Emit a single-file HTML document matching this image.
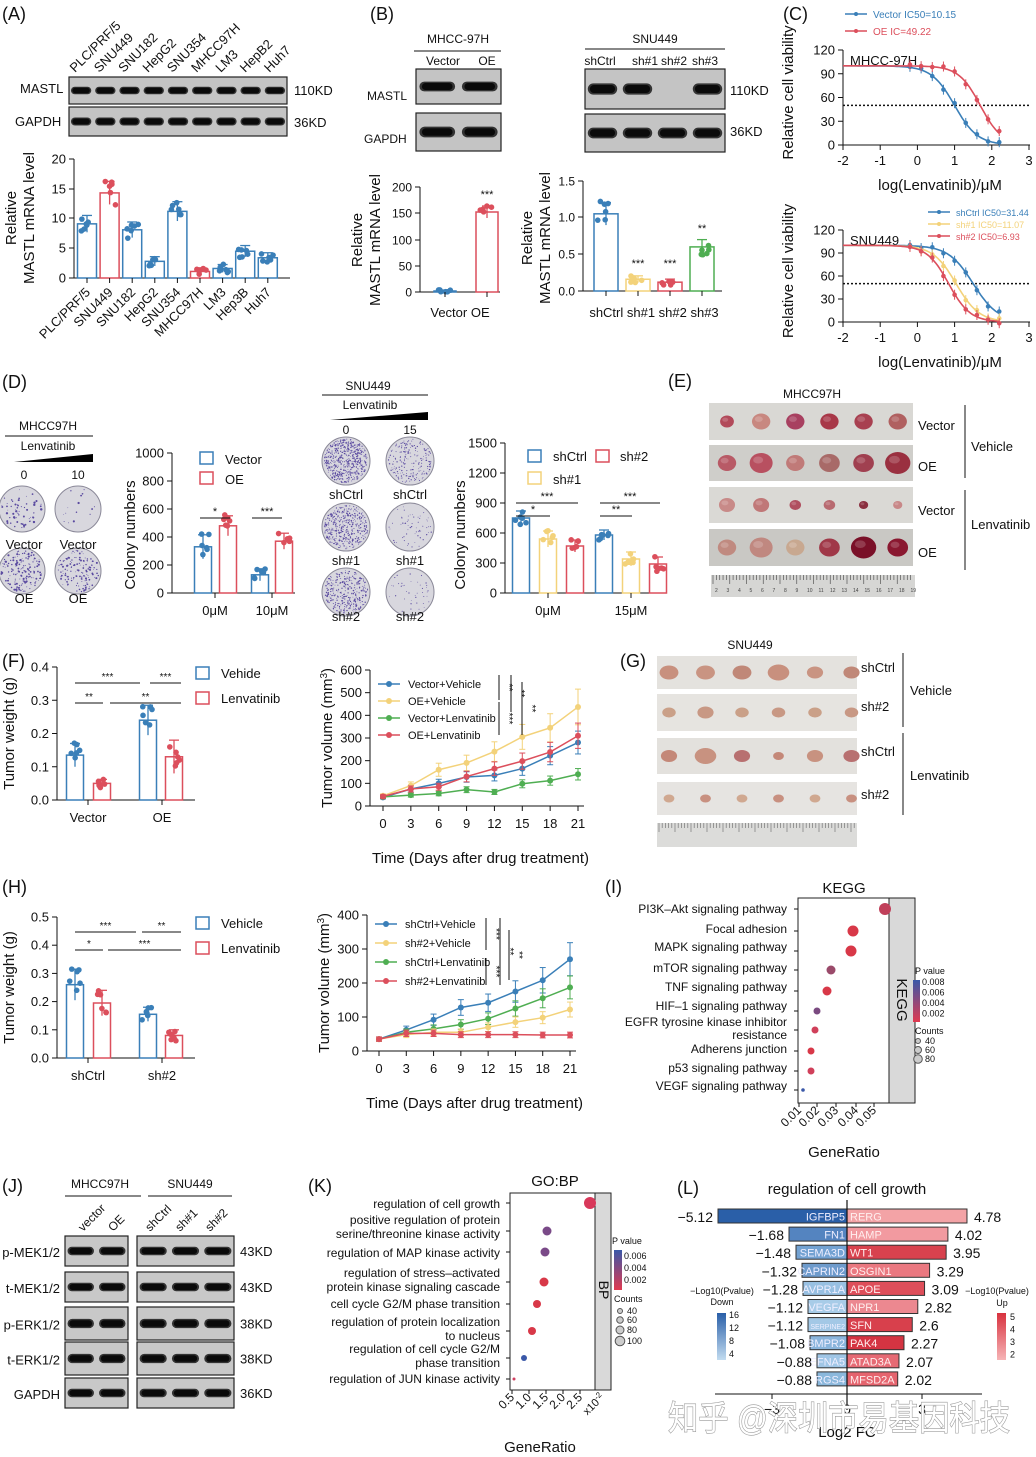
<!DOCTYPE html>
<html><head><meta charset="utf-8"><style>
html,body{margin:0;padding:0;background:#fff}
svg{display:block;font-family:"Liberation Sans","Noto Sans CJK SC",sans-serif}
</style></head><body>
<svg id="s" width="1036" height="1457" viewBox="0 0 1036 1457" xmlns="http://www.w3.org/2000/svg">
<defs>
<linearGradient id="pv" x1="0" y1="0" x2="0" y2="1"><stop offset="0" stop-color="#3a58a8"/><stop offset="1" stop-color="#e03a50"/></linearGradient>
<linearGradient id="dn" x1="0" y1="0" x2="0" y2="1"><stop offset="0" stop-color="#2a5fa8"/><stop offset="1" stop-color="#c2dcf0"/></linearGradient>
<linearGradient id="up" x1="0" y1="0" x2="0" y2="1"><stop offset="0" stop-color="#d8323f"/><stop offset="1" stop-color="#f6b4b6"/></linearGradient>
</defs>
</svg>
<script>
var s='';
function T(x,y,str,o){o=o||{};s+='<text x="'+x+'" y="'+y+'" font-size="'+(o.fs||13)+'" text-anchor="'+(o.a||'start')+'" fill="'+(o.c||'#111')+'"'+(o.r!=null?' transform="rotate('+o.r+' '+x+' '+y+')"':'')+(o.st?' stroke="'+o.st+'" stroke-width="'+(o.sw||1)+'" paint-order="stroke"':'')+(o.tl?' textLength="'+o.tl+'" lengthAdjust="spacingAndGlyphs"':'')+'>'+str+'</text>';}
function L(x1,y1,x2,y2,c,w,d){s+='<line x1="'+x1+'" y1="'+y1+'" x2="'+x2+'" y2="'+y2+'" stroke="'+(c||'#111')+'" stroke-width="'+(w||1)+'"'+(d?' stroke-dasharray="'+d+'"':'')+'/>';}
function R(x,y,w,h,f,st,sw,op,rx){s+='<rect x="'+x+'" y="'+y+'" width="'+w+'" height="'+h+'" fill="'+f+'"'+(st?' stroke="'+st+'" stroke-width="'+(sw||1)+'"':'')+(op!=null?' opacity="'+op+'"':'')+(rx?' rx="'+rx+'"':'')+'/>';}
function C(x,y,r,f,st){s+='<circle cx="'+x+'" cy="'+y+'" r="'+r+'" fill="'+f+'"'+(st?' stroke="'+st+'"':'')+'/>';}
function E(x,y,rx,ry,f,op){s+='<ellipse cx="'+x+'" cy="'+y+'" rx="'+rx+'" ry="'+ry+'" fill="'+f+'"'+(op!=null?' opacity="'+op+'"':'')+'/>';}
function P(d,st,w,f){s+='<path d="'+d+'" stroke="'+(st||'none')+'" stroke-width="'+(w||1)+'" fill="'+(f||'none')+'"/>';}
var seed=7;function rnd(){seed=(seed*9301+49297)%233280;return seed/233280;}
var BL='#3a7fb8',RD='#dc4f5c',YE='#f3d27a',GR='#4fae52';
function yax(x,ticks,fs){ticks.forEach(function(t){L(x-5,t[0],x,t[0]);T(x-8,t[0]+4.5,t[1],{a:'end',fs:fs||13});});L(x,ticks[ticks.length-1][0],x,ticks[0][0]);}
function bar(cx,w,y0,yv,err,col,n){R(cx-w/2,yv,w,y0-yv,'#fff',col,1.5);L(cx,yv-err,cx,yv+err,col,1.3);L(cx-5,yv-err,cx+5,yv-err,col,1.3);for(var i=0;i<(n||6);i++){C(cx+(rnd()-0.5)*w*0.7,yv+(rnd()-0.5)*err*2.2,2.8,col);}}
function blot(x,y,w,h,lanes,bg){R(x,y,w,h,bg||'#c4c4c4','#222',1.2);var n=lanes.length,lw=w/n;lanes.forEach(function(v,i){if(v>0){R(x+lw*(i+0.08),y+h*0.36,lw*0.84,h*0.28,'#333',v*0.45,null,null,h*0.14);R(x+lw*(i+0.14),y+h*0.4,lw*0.72,h*0.2,'#0a0a0a',v,null,null,h*0.1);}});}
// ========== (A)
T(2,20,'(A)',{fs:18});
var lab=['PLC/PRF/5','SNU449','SNU182','HepG2','SNU354','MHCC97H','LM3','HepB2','Huh7'];
lab.forEach(function(t,i){T(75+i*24.3,73,t,{fs:13,r:-45});});
T(20,93,'MASTL',{fs:13});T(15,126,'GAPDH',{fs:13});
blot(69,77,218,27,[1,1,.95,.2,1,.08,.1,.9,.8]);blot(69,107,218,29,[.8,.8,.85,.9,.85,.85,.85,.85,.8]);
T(294,95,'110KD',{fs:13});T(294,127,'36KD',{fs:13});
yax(74,[[278,'0'],[248,'5'],[218,'10'],[189,'15'],[159,'20']],13);
L(74,278,290,278);
var av=[9.1,14.3,8.1,2.8,11.2,1.1,1.6,4.5,3.4],k=5.95;
av.forEach(function(v,i){var cx=87+i*22.6;bar(cx,19,278,278-v*k,v*0.1*k+3,(i==1||i==5)?RD:BL);L(cx,278,cx,283);});
var bl=['PLC/PRF/5','SNU449','SNU182','HepG2','SNU354','MHCC97H','LM3','Hep3B','Huh7'];
bl.forEach(function(t,i){T(91+i*22.6,293,t,{fs:13,a:'end',r:-45});});
T(16,218,'Relative',{fs:15,a:'middle',r:-90});T(34,218,'MASTL mRNA level',{fs:15,a:'middle',r:-90});
// ========== (B)
T(370,20,'(B)',{fs:18});
T(458,43,'MHCC-97H',{fs:12,a:'middle'});L(414,51,501,51);
T(443,65,'Vector',{fs:12,a:'middle'});T(487,65,'OE',{fs:12,a:'middle'});
blot(416,69,85,35,[.25,1]);blot(416,113,85,38,[.7,.75]);
T(367,100,'MASTL',{fs:12});T(364,143,'GAPDH',{fs:12});
T(655,43,'SNU449',{fs:12,a:'middle'});L(585,49,725,49);
T(600,65,'shCtrl',{fs:12,a:'middle'});T(645,65,'sh#1',{fs:12,a:'middle'});T(674,65,'sh#2',{fs:12,a:'middle'});T(705,65,'sh#3',{fs:12,a:'middle'});
blot(585,69,140,40,[1,.05,0,.8]);blot(585,114,140,38,[.9,.85,.9,1]);
T(730,95,'110KD',{fs:13});T(730,136,'36KD',{fs:13});
yax(420,[[292,'0'],[266,'50'],[240,'100'],[213,'150'],[187,'200']],12);L(420,292,500,292);
bar(445,22,292,291,1,BL,6);bar(487,22,292,212,6,RD,5);T(487,198,'***',{fs:11,a:'middle'});
L(445,292,445,297);L(487,292,487,297);T(460,317,'Vector OE',{fs:13,a:'middle'});
T(362,240,'Relative',{fs:15,a:'middle',r:-90});T(380,240,'MASTL mRNA level',{fs:15,a:'middle',r:-90});
yax(583,[[291,'0.0'],[254,'0.5'],[217,'1.0'],[181,'1.5']],12);L(583,291,722,291);
var sv=[[1.05,BL],[.16,YE],[.12,RD],[.6,GR]];
sv.forEach(function(v,i){var cx=606+i*32;bar(cx,24,291,291-v[0]*73.5,v[0]*0.12*73.5+2,v[1]);L(cx,291,cx,296);});
T(638,267,'***',{fs:11,a:'middle'});T(670,267,'***',{fs:11,a:'middle'});T(702,232,'**',{fs:11,a:'middle'});
T(654,317,'shCtrl sh#1 sh#2 sh#3',{fs:13,a:'middle'});
T(532,238,'Relative',{fs:15,a:'middle',r:-90});T(550,238,'MASTL mRNA level',{fs:15,a:'middle',r:-90});
// ========== (C)
T(783,20,'(C)',{fs:18});
function sig(x,l,h){return 100/(1+Math.pow(10,(x-l)*h));}
function curvePlot(y0,ytop,series,title,leg){
 var sx=function(v){return 843+(v+2)*37.2;},sy=function(v){return y0-v*(y0-ytop)/120;};
 yax(843,[[y0,'0'],[sy(30),'30'],[sy(60),'60'],[sy(90),'90'],[sy(120),'120']],13);
 L(843,y0,1030,y0);[-2,-1,0,1,2,3].forEach(function(v){L(sx(v),y0,sx(v),y0+5);T(sx(v),y0+20,String(v),{fs:13,a:'middle'});});
 L(843,sy(50),1030,sy(50),'#111',1.5,'2,2');
 T(850,ytop+15,title,{fs:13});
 series.forEach(function(sr){var d='';for(var x=-2;x<=2.25;x+=0.05){d+=(d?'L':'M')+sx(x).toFixed(1)+' '+sy(sig(x,sr.l,sr.h)).toFixed(1);}P(d,sr.c,1.6);
  [-.2,.1,.4,.7,1,1.3,1.6,1.9,2.2].forEach(function(x){var yy=sy(sig(x,sr.l,sr.h)+(rnd()-0.5)*6);C(sx(x),yy,2.3,sr.c);L(sx(x),yy-5,sx(x),yy+5,sr.c);});});
 leg.forEach(function(g,i){L(g[0],g[1],g[0]+22,g[1],g[3],1.5);C(g[0]+11,g[1],2,g[3]);T(g[0]+28,g[1]+4,g[2],{fs:g[4]||11,c:g[3]});});
 T(940,sy(0)+45,'log(Lenvatinib)/μM',{fs:15,a:'middle'});
 T(793,(y0+ytop)/2-5,'Relative cell viability',{fs:15,a:'middle',r:-90});
}
curvePlot(145,50,[{l:1.0,h:1.4,c:BL},{l:1.69,h:1.5,c:RD}],'MHCC-97H',[[845,14,'Vector IC50=10.15',BL,10],[845,31,'OE IC=49.22',RD,10]]);
curvePlot(322,230,[{l:1.5,h:1.3,c:BL},{l:1.04,h:1.4,c:YE},{l:.84,h:1.5,c:RD}],'SNU449',[[928,212,'shCtrl IC50=31.44',BL,9],[928,224,'sh#1 IC50=11.07',YE,9],[928,236,'sh#2 IC50=6.93',RD,9]]);
// ========== (D)
T(2,388,'(D)',{fs:18});
function plate(cx,cy,r,n,big){C(cx,cy,r,'#d8d7de','#8a8898');for(var i=0;i<n;i++){var a=rnd()*6.283,rr=Math.sqrt(rnd())*(r-2);C(cx+Math.cos(a)*rr,cy+Math.sin(a)*rr,0.35+rnd()*(big||0.5),'#5a4aa0');}}
function wedge(x1,x2,y){P('M'+x1+' '+(y+2)+' L'+x2+' '+(y-6)+' L'+x2+' '+(y+2)+' Z','none',1,'#000');}
T(48,430,'MHCC97H',{fs:12,a:'middle'});L(5,436,93,436);T(48,450,'Lenvatinib',{fs:12,a:'middle'});wedge(14,93,460);
T(24,479,'0',{fs:12,a:'middle'});T(78,479,'10',{fs:12,a:'middle'});
plate(22,509,23,60,0.9);plate(78,509,23,15,0.8);plate(22,571,23,160,0.7);plate(78,571,23,140,0.7);
T(24,549,'Vector',{fs:13,a:'middle'});T(78,549,'Vector',{fs:13,a:'middle'});T(24,603,'OE',{fs:13,a:'middle'});T(78,603,'OE',{fs:13,a:'middle'});
yax(172,[[593,'0'],[565,'200'],[537,'400'],[509,'600'],[481,'800'],[453,'1000']],13);L(172,593,295,593);
R(200,452,13,12,'#fff',BL,1.5);T(225,464,'Vector',{fs:13});R(200,472,13,12,'#fff',RD,1.5);T(225,484,'OE',{fs:13});
bar(203,17,593,593-330*.14,12,BL,6);bar(228,17,593,593-480*.14,10,RD,6);bar(260,17,593,593-130*.14,6,BL,6);bar(284,17,593,593-370*.14,8,RD,6);
L(200,518,230,518);T(215,515,'*',{fs:11,a:'middle'});L(252,518,282,518);T(267,515,'***',{fs:11,a:'middle'});
L(215,593,215,598);L(272,593,272,598);T(215,615,'0μM',{fs:13,a:'middle'});T(272,615,'10μM',{fs:13,a:'middle'});
T(135,535,'Colony numbers',{fs:15,a:'middle',r:-90});
T(368,390,'SNU449',{fs:12,a:'middle'});L(322,395,428,395);T(370,409,'Lenvatinib',{fs:12,a:'middle'});wedge(330,428,418);
T(346,434,'0',{fs:12,a:'middle'});T(410,434,'15',{fs:12,a:'middle'});
plate(346,461,24,500,0.4);plate(410,461,24,200,0.35);plate(346,527,24,380,0.4);plate(410,527,24,60,0.3);plate(346,592,24,320,0.4);plate(410,592,24,40,0.3);
T(346,499,'shCtrl',{fs:13,a:'middle'});T(410,499,'shCtrl',{fs:13,a:'middle'});T(346,565,'sh#1',{fs:13,a:'middle'});T(410,565,'sh#1',{fs:13,a:'middle'});T(346,621,'sh#2',{fs:13,a:'middle'});T(410,621,'sh#2',{fs:13,a:'middle'});
yax(505,[[593,'0'],[563,'300'],[533,'600'],[503,'900'],[473,'1200'],[443,'1500']],13);L(505,593,660,593);
R(528,450,13,12,'#fff',BL,1.5);T(553,461,'shCtrl',{fs:13});R(596,450,13,12,'#fff',RD,1.5);T(620,461,'sh#2',{fs:13});R(528,472,13,12,'#fff',YE,1.5);T(553,484,'sh#1',{fs:13});
var dk=0.1;bar(521,17,593,593-750*dk,7,BL,6);bar(548,17,593,593-540*dk,8,YE,6);bar(575,17,593,593-470*dk,6,RD,6);
bar(604,17,593,593-580*dk,5,BL,6);bar(631,17,593,593-340*dk,7,YE,6);bar(658,17,593,593-290*dk,7,RD,6);
L(516,503,578,503);T(547,500,'***',{fs:11,a:'middle'});L(516,516,550,516);T(533,513,'*',{fs:11,a:'middle'});
L(600,503,660,503);T(630,500,'***',{fs:11,a:'middle'});L(600,516,632,516);T(616,513,'**',{fs:11,a:'middle'});
L(548,593,548,598);L(631,593,631,598);T(548,615,'0μM',{fs:13,a:'middle'});T(631,615,'15μM',{fs:13,a:'middle'});
T(465,535,'Colony numbers',{fs:15,a:'middle',r:-90});
// ========== (E)
T(668,387,'(E)',{fs:18});T(812,398,'MHCC97H',{fs:12,a:'middle'});
function tumRow(x,y,w,h,bg,sz,cols){R(x,y,w,h,bg);var n=6;for(var i=0;i<n;i++){var cx=x+14+i*(w-28)/(n-1)*0.97+4,rr=sz[i];E(cx,y+h/2,rr*1.15,rr,cols[i]);E(cx-rr*0.3,y+h/2-rr*0.3,rr*0.5,rr*0.35,'#fff',0.18);}}
tumRow(709,403,204,37,'#d9d8d4',[6,8,8,8,8,8],['#b24a5a','#c88880','#a84060','#a83848','#a84050','#b06060']);
tumRow(709,445,204,36,'#cfceca',[8,10,8,9,9,11],['#b85a66','#b85060','#c07a78','#a86a68','#a04050','#9a3040']);
tumRow(709,487,204,36,'#dad9d5',[7,7,5,5,4,4],['#c88a88','#c07878','#b05060','#b86a70','#8a3040','#c88888']);
tumRow(709,529,204,37,'#c9c8c4',[8,10,8,9,11,9],['#c08a80','#c08880','#c8a890','#a03848','#7a1028','#8a1830']);
R(711,575,204,22,'#d6d6d4');for(var i=0;i<60;i++){L(713+i*3.35,575,713+i*3.35,i%5?580:584,'#555',0.7);}
for(var i=0;i<18;i++)T(715+i*11.5,592,String(i+2),{fs:5,c:'#444'});
T(918,430,'Vector',{fs:13});T(918,471,'OE',{fs:13});T(918,515,'Vector',{fs:13});T(918,557,'OE',{fs:13});
L(965,405,965,478);L(965,490,965,570);T(971,451,'Vehicle',{fs:13});T(971,529,'Lenvatinib',{fs:13});
// ========== (F)
T(2,667,'(F)',{fs:18});
function wplot(y0,ytop,vmax,step,dec,vals,errs,legA,legB,xl,sigs){
 var k=(y0-ytop)/vmax,tk=[];for(var v=0;v<=vmax+1e-9;v+=step)tk.push([y0-v*k,v.toFixed(1)]);yax(57,tk,13);L(57,y0,195,y0);
 var cx=[75,102,148,174];vals.forEach(function(v,i){bar(cx[i],17,y0,y0-v*k,errs[i]*k,i%2?RD:BL,6);});
 L(88,y0,88,y0+5);L(162,y0,162,y0+5);T(88,y0+22,xl[0],{fs:13,a:'middle'});T(162,y0+22,xl[1],{fs:13,a:'middle'});
 sigs.forEach(function(g){L(g[0],g[1],g[2],g[1]);T((g[0]+g[2])/2,g[1]-3,g[3],{fs:10,a:'middle'});});
 R(196,ytop+0,13,12,'#fff',BL,1.5);T(221,ytop+11,legA,{fs:13});R(196,ytop+25,13,12,'#fff',RD,1.5);T(221,ytop+36,legB,{fs:13});
 T(14,(y0+ytop)/2,'Tumor weight (g)',{fs:15,a:'middle',r:-90});
}
wplot(800,667,0.4,0.1,1,[.135,.05,.24,.13],[.035,.012,.045,.05],'Vehide','Lenvatinib',['Vector','OE'],[[75,683,140,'***'],[150,683,181,'***'],[75,703,103,'**'],[110,703,181,'**']]);
function vplot(ax,y0,ytop,vmax,step,x0,x21,ser,leg,stars){
 var k=(y0-ytop)/vmax,tk=[];for(var v=0;v<=vmax;v+=step)tk.push([y0-v*k,String(v)]);yax(ax,tk,13);L(ax,y0,x21+6,y0);
 var sx=function(d){return x0+d*(x21-x0)/21;};
 for(var d=0;d<=21;d+=3){L(sx(d),y0,sx(d),y0+5);T(sx(d),y0+22,String(d),{fs:13,a:'middle'});}
 ser.forEach(function(sr){var dd='';sr.v.forEach(function(v,i){var X=sx(i*3),Y=y0-v*k;dd+=(i?'L':'M')+X+' '+Y;var e=v*0.18*k;L(X,Y-e,X,Y+e,sr.c);L(X-3,Y-e,X+3,Y-e,sr.c);L(X-3,Y+e,X+3,Y+e,sr.c);});P(dd,sr.c,1.5);sr.v.forEach(function(v,i){C(sx(i*3),y0-v*k,3,sr.c);});});
 leg.forEach(function(g,i){var y=g[1];L(ax+8,y,ax+30,y,g[2],1.5);C(ax+19,y,3,g[2]);T(ax+38,y+4,g[0],{fs:11});});
 stars.forEach(function(st){L(st[0],st[1],st[0],st[2]);T(st[0]+7,(st[1]+st[2])/2,st[3],{fs:10,r:90,a:'middle'});});
 T((x0+x21)/2,y0+57,'Time (Days after drug treatment)',{fs:15,a:'middle'});
 T(ax-38,(y0+ytop)/2,'Tumor volume (mm<tspan dy="-5" font-size="10">3</tspan><tspan dy="5">)</tspan>',{fs:15,a:'middle',r:-90});
}
vplot(370,806,670,600,100,383,578,[{c:BL,v:[38,75,100,128,135,165,222,280]},{c:YE,v:[45,90,160,190,240,305,345,437]},{c:GR,v:[40,48,55,72,62,98,112,140]},{c:RD,v:[42,75,85,130,165,198,238,310]}],
 [['Vector+Vehicle',684,BL],['OE+Vehicle',701,YE],['Vector+Lenvatinib',718,GR],['OE+Lenvatinib',735,RD]],
 [[499,675,700,'**'],[511,675,712,'**'],[499,702,735,'***'],[522,682,735,'**']]);
// ========== (G)
T(620,667,'(G)',{fs:18});T(750,649,'SNU449',{fs:12,a:'middle'});
function tumRow2(y,h,bg,sz,c){R(657,y,200,h,bg);for(var i=0;i<6;i++){var cx=669+i*36.5;E(cx,y+h/2,sz[i]*1.35,sz[i],c[i%c.length]);}}
tumRow2(656,33,'#e4e2de',[7,7,7,8,6,6],['#c8907e','#c99482','#c08878']);
tumRow2(694,37,'#e6e4e0',[5,6,5,5,5,5],['#caa088','#c89884']);
tumRow2(738,36,'#e3e1dd',[6,8,6,4,6,6],['#c48878','#c89280','#b87070']);
tumRow2(782,33,'#e6e4e1',[4,4,4,4,4,4],['#d0a890','#c89080']);
R(657,823,200,24,'#dcdcda');for(var i=0;i<62;i++){L(659+i*3.2,823,659+i*3.2,i%5?828:832,'#777',0.7);}
T(861,672,'shCtrl',{fs:13});T(861,711,'sh#2',{fs:13});T(861,756,'shCtrl',{fs:13});T(861,799,'sh#2',{fs:13});
L(903,653,903,727);L(903,733,903,815);T(910,695,'Vehicle',{fs:13});T(910,780,'Lenvatinib',{fs:13});
// ========== (H)
T(2,893,'(H)',{fs:18});
wplot(1058,917,0.5,0.1,1,[.26,.195,.155,.08],[.055,.045,.025,.02],'Vehicle','Lenvatinib',['shCtrl','sh#2'],[[75,932,136,'***'],[142,932,181,'**'],[75,950,103,'*'],[108,950,181,'***']]);
vplot(367,1051,915,400,100,379,570,[{c:BL,v:[35,62,92,128,142,175,208,270]},{c:GR,v:[35,55,65,78,95,125,155,187]},{c:YE,v:[35,48,55,55,70,85,98,122]},{c:RD,v:[35,52,52,48,48,48,47,47]}],
 [['shCtrl+Vehicle',924,BL],['sh#2+Vehicle',943,YE],['shCtrl+Lenvatinib',962,GR],['sh#2+Lenvatinib',981,RD]],
 [[486,918,950,'***'],[500,918,985,'**'],[486,958,985,'***'],[509,930,980,'**']]);
// ========== (I)
T(605,893,'(I)',{fs:18});T(844,893,'KEGG',{fs:15,a:'middle'});
R(798,898,91,205,'#fff','#222',1);R(889,898,26,205,'#d9d9d9','#222',1);T(897,1000,'KEGG',{fs:15,a:'middle',r:90});
var kl=[['PI3K–Akt signaling pathway',913,909],['Focal adhesion',933,931],['MAPK signaling pathway',951,951],['mTOR signaling pathway',972,970],['TNF signaling pathway',991,991],['HIF–1 signaling pathway',1010,1011],['EGFR tyrosine kinase inhibitor',1026,1030],['resistance',1039,-1],['Adherens junction',1053,1051],['p53 signaling pathway',1072,1071],['VEGF signaling pathway',1090,1090]];
kl.forEach(function(q){T(787,q[1],q[0],{fs:12,a:'end'});if(q[2]>0)L(794,q[2],798,q[2]);});
[[885,909,6,'#c0405a'],[853,931,5.5,'#d83848'],[851,951,5.5,'#d83848'],[831,970,4.5,'#9a4a6a'],[827,991,4.5,'#d83848'],[817,1011,3.5,'#7a4a80'],[815,1030,3.5,'#d0405a'],[811,1051,3.5,'#d83848'],[811,1071,3.5,'#d0405a'],[803,1090,1.8,'#3a58a8']].forEach(function(d){C(d[0],d[1],d[2],d[3]);});
[['0.01',799],['0.02',817],['0.03',836],['0.04',856],['0.05',874]].forEach(function(t){L(t[1],1103,t[1],1107);T(t[1]+3,1111,t[0],{fs:12,a:'end',r:-45});});
T(844,1157,'GeneRatio',{fs:15,a:'middle'});
T(915,974,'P value',{fs:9});R(913,980,7,42,'url(#pv)');['0.008','0.006','0.004','0.002'].forEach(function(t,i){T(922,985+i*10.5,t,{fs:9});});
T(915,1034,'Counts',{fs:9});[[1041,2.5,'40'],[1050,3.5,'60'],[1059,4.3,'80']].forEach(function(c){C(918,c[0],c[1],'#ccc','#555');T(925,c[0]+3,c[2],{fs:9});});
// ========== (J)
T(2,1192,'(J)',{fs:18});
T(100,1188,'MHCC97H',{fs:12,a:'middle'});L(65,1196,141,1196);T(190,1188,'SNU449',{fs:12,a:'middle'});L(148,1196,232,1196);
[['vector',83],['OE',113],['shCtrl',150],['sh#1',180],['sh#2',210]].forEach(function(q){T(q[1],1232,q[0],{fs:12,r:-45});});
var jr=[['p-MEK1/2',1236,30,[.8,1],[.9,.7,.55],'43KD'],['t-MEK1/2',1272,30,[1,1],[1,1,1],'43KD'],['p-ERK1/2',1307,33,[.85,.95],[.95,.7,.55],'38KD'],['t-ERK1/2',1342,33,[1,1],[.95,.95,.95],'38KD'],['GAPDH',1378,30,[.95,.9],[.95,.9,.85],'36KD']];
jr.forEach(function(r){blot(65,r[1],63,r[2],r[3],'#c8c8c8');blot(137,r[1],97,r[2],r[4],'#c8c8c8');T(60,r[1]+r[2]/2+6,r[0],{fs:13,a:'end'});T(240,r[1]+r[2]/2+5,r[5],{fs:13});});
// ========== (K)
T(308,1192,'(K)',{fs:18});T(555,1186,'GO:BP',{fs:15,a:'middle'});
R(510,1193,85,197,'#fff','#222',1);R(595,1193,16,197,'#d9d9d9','#222',1);T(599,1290,'BP',{fs:14,a:'middle',r:90});
[['regulation of cell growth',1208],['positive regulation of protein',1224],['serine/threonine kinase activity',1238],['regulation of MAP kinase activity',1257],['regulation of stress–activated',1277],['protein kinase signaling cascade',1291],['cell cycle G2/M phase transition',1308],['regulation of protein localization',1326],['to nucleus',1340],['regulation of cell cycle G2/M',1353],['phase transition',1367],['regulation of JUN kinase activity',1383]].forEach(function(q){T(500,q[1],q[0],{fs:12,a:'end'});});
[1203,1231,1252,1282,1304,1331,1358,1379].forEach(function(y){L(506,y,510,y);});
[[590,1203,6,'#d8385a'],[547,1231,4.5,'#7a4a88'],[545,1252,4.5,'#7a4a88'],[544,1282,4.5,'#d83848'],[537,1304,4,'#d83848'],[532,1331,4,'#d83848'],[524,1358,3,'#3a58a8'],[514,1379,1.5,'#d04060']].forEach(function(d){C(d[0],d[1],d[2],d[3]);});
[['0.5',512],['1.0',529],['1.5',546],['2.0',563],['2.5',580]].forEach(function(t){L(t[1],1390,t[1],1394);T(t[1]+3,1398,t[0],{fs:12,a:'end',r:-45});});
T(605,1398,'x10<tspan dy="-4" font-size="8">-2</tspan>',{fs:11,a:'end',r:-45});
T(540,1452,'GeneRatio',{fs:15,a:'middle'});
T(612,1244,'P value',{fs:9});R(614,1250,8,40,'url(#pv)');['0.006','0.004','0.002'].forEach(function(t,i){T(624,1259+i*12,t,{fs:9});});
T(614,1302,'Counts',{fs:9});[[1311,2.5,'40'],[1320,3.3,'60'],[1330,4,'80'],[1341,4.8,'100']].forEach(function(c){C(620,c[0],c[1],'#ccc','#555');T(627,c[0]+3,c[2],{fs:9});});
// ========== (L)
T(677,1194,'(L)',{fs:18});T(847,1194,'regulation of cell growth',{fs:15,a:'middle'});
var lrows=[['IGFBP5',718,'#2a5fa8','−5.12','RERG','4.78',4.78,'#f3a3a6'],['FN1',789,'#5484c0','−1.68','HAMP','4.02',4.02,'#f29aa0'],['SEMA3D',796,'#73a2d2','−1.48','WT1','3.95',3.95,'#d8424e'],['CAPRIN2',802,'#6e9bcc','−1.32','OSGIN1','3.29',3.29,'#ea7880'],['AVPR1A',803,'#98c0e2','−1.28','APOE','3.09',3.09,'#de4e5a'],['VEGFA',808,'#a8cce8','−1.12','NPR1','2.82',2.82,'#ec8890'],['SERPINE2',808,'#a3c8e6','−1.12','SFN','2.6',2.6,'#d8404c'],['BMPR2',810,'#8ab5dc','−1.08','PAK4','2.27',2.27,'#d43442'],['EFNA5',817,'#a0c6e6','−0.88','ATAD3A','2.07',2.07,'#e66a74'],['RGS4',817,'#8bb8dc','−0.88','MFSD2A','2.02',2.02,'#e5646e']];
lrows.forEach(function(r,i){var yc=1216+i*18.1,h=14;R(r[1],yc-h/2,847-r[1],h,r[2],'#333',1);var xe=847+r[6]*25.1;R(847,yc-h/2,xe-847,h,r[7],'#333',1);
 T(845,yc+4.5,r[0],{fs:r[0]=='SERPINE2'?7:11,a:'end',c:'#eef'});T(850,yc+4.5,r[4],{fs:11,c:'#fee'});
 T(r[1]-5,yc+6,r[3],{fs:14,a:'end'});T(xe+7,yc+6,r[5],{fs:14});});
L(847,1200,847,1410,'#111',1.2);
L(715,1394,982,1394);[[772,'−3'],[847,'0'],[922,'3']].forEach(function(t){L(t[0],1394,t[0],1399);T(t[0],1414,t[1],{fs:14,a:'middle'});});
T(847,1437,'Log2 FC',{fs:15,a:'middle'});
T(722,1294,'−Log10(Pvalue)',{fs:9,a:'middle'});T(722,1305,'Down',{fs:9,a:'middle'});R(717,1313,9,47,'url(#dn)');['16','12','8','4'].forEach(function(t,i){T(729,1318+i*13,t,{fs:9});});
T(997,1294,'−Log10(Pvalue)',{fs:9,a:'middle'});T(1002,1306,'Up',{fs:9,a:'middle'});R(997,1313,9,47,'url(#up)');['5','4','3','2'].forEach(function(t,i){T(1010,1320+i*12.5,t,{fs:9});});
T(668,1430,'知乎 @深圳市易基因科技',{fs:34,c:'#fff',st:'#999',sw:1.2,tl:342});
document.getElementById('s').insertAdjacentHTML('beforeend',s);
</script>
</body></html>
